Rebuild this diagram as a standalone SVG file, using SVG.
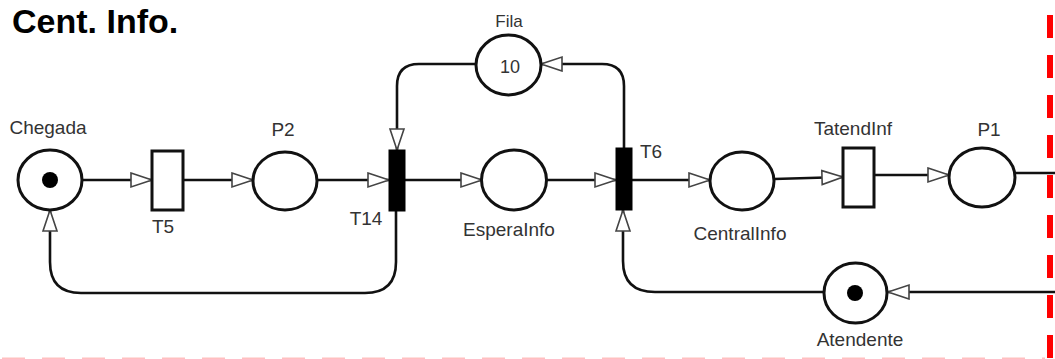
<svg xmlns="http://www.w3.org/2000/svg" width="1055" height="359" viewBox="0 0 1055 359">
<style>
.place{fill:#fff;stroke:#111;stroke-width:3}
.trans{fill:#fff;stroke:#111;stroke-width:3}
.imm{fill:#000;stroke:#000;stroke-width:1}
.tok{fill:#000}
.arc{fill:none;stroke:#111;stroke-width:2.6;marker-end:url(#ah)}
.lbl{font-family:"Liberation Sans",Arial,sans-serif;font-size:19px;fill:#333;text-anchor:middle}
.title{font-family:"Liberation Sans",Arial,sans-serif;font-weight:700;font-size:34px;fill:#000}
</style>
<defs>
<marker id="ah" markerUnits="userSpaceOnUse" markerWidth="24" markerHeight="18" refX="22" refY="8" orient="auto" overflow="visible">
<path d="M1,1 L22,8 L1,15 Z" fill="#fff" stroke="#444" stroke-width="1.6"/>
</marker>
</defs>
<rect width="1055" height="359" fill="#fff"/>
<text class="title" x="12" y="33">Cent. Info.</text>

<g id="connectors">
<path class="arc" d="M82,180 H152"/>
<path class="arc" d="M183,180 H253"/>
<path class="arc" d="M317,180 H389"/>
<path class="arc" d="M405,180 H482"/>
<path class="arc" d="M547,180 H616"/>
<path class="arc" d="M632,180 H710"/>
<path class="arc" d="M774,179 L843,177"/>
<path class="arc" d="M874,175 H949"/>
<path class="arc" d="M476,64 H419 Q397,64 397,86 V150"/>
<path class="arc" d="M624,148 V86 Q624,64 602,64 H541"/>
<path class="arc" d="M396,211 V262 Q396,293 365,293 H81 Q50,293 50,262 V210"/>
<path class="arc" d="M824,292 H655 Q623,292 623,261 V210"/>
<path class="arc" d="M1055,292 H888"/>
<path fill="none" stroke="#111" stroke-width="2.6" d="M1015,173 H1055"/>
</g>

<g id="Chegada">
<ellipse class="place" cx="50" cy="180" rx="32" ry="30"/>
<circle class="tok" cx="50" cy="180" r="8"/>
<text class="lbl" x="48" y="134">Chegada</text>
</g>
<g id="T5">
<rect class="trans" x="152" y="151" width="31" height="59"/>
<text class="lbl" x="163" y="233">T5</text>
</g>
<g id="P2">
<ellipse class="place" cx="285" cy="181" rx="32" ry="29"/>
<text class="lbl" x="283" y="136">P2</text>
</g>
<g id="T14">
<rect class="imm" x="389" y="150" width="16" height="61"/>
<text class="lbl" x="366" y="225">T14</text>
</g>
<g id="Fila">
<ellipse class="place" cx="508.5" cy="65" rx="32.5" ry="30"/>
<text class="lbl" x="510" y="73" style="font-size:18px">10</text>
<text class="lbl" x="509" y="27" style="font-size:17px">Fila</text>
</g>
<g id="EsperaInfo">
<ellipse class="place" cx="514" cy="180" rx="32.5" ry="30"/>
<text class="lbl" x="509" y="236">EsperaInfo</text>
</g>
<g id="T6">
<rect class="imm" x="616" y="148" width="16" height="62"/>
<text class="lbl" x="651" y="158">T6</text>
</g>
<g id="CentralInfo">
<ellipse class="place" cx="742" cy="181" rx="32" ry="29"/>
<text class="lbl" x="740" y="240">CentralInfo</text>
</g>
<g id="TatendInf">
<rect class="trans" x="843" y="148" width="31" height="59"/>
<text class="lbl" x="853" y="135">TatendInf</text>
</g>
<g id="P1">
<ellipse class="place" cx="982" cy="177.5" rx="33" ry="29.5"/>
<text class="lbl" x="989" y="136">P1</text>
</g>
<g id="Atendente">
<ellipse class="place" cx="855.5" cy="293" rx="31.5" ry="30"/>
<circle class="tok" cx="855" cy="293" r="8"/>
<text class="lbl" x="860" y="346">Atendente</text>
</g>

<g id="boundary">
<line x1="1050" y1="15" x2="1050" y2="359" stroke="#ff0000" stroke-width="6" stroke-dasharray="23 17"/>
<line x1="2" y1="358.5" x2="1045" y2="358.5" stroke="#ffc0c0" stroke-width="2" stroke-dasharray="23 17"/>
</g>
</svg>
